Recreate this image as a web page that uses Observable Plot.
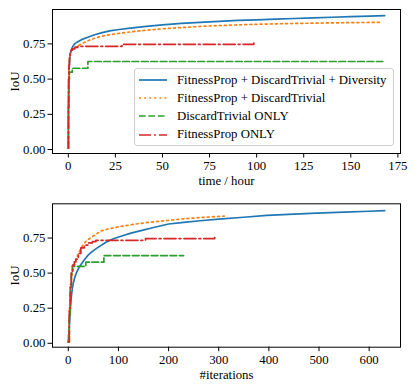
<!DOCTYPE html>
<html><head><meta charset="utf-8">
<script src="https://cdn.jsdelivr.net/npm/d3@7"></script>
<script src="https://cdn.jsdelivr.net/npm/@observablehq/plot@0.6"></script>
<style>
body{margin:0;background:#fff;}
#wrap{position:relative;width:415px;height:388px;font-family:"Liberation Serif",serif;}
#wrap svg, #wrap svg g, #wrap svg text{font-size:12.8px !important;font-family:"Liberation Serif",serif !important;}
#legend{position:absolute;left:134px;top:68px;width:258px;height:76px;border:1px solid #cfcfcf;border-radius:3px;background:rgba(255,255,255,0.85);font-size:12.8px;}
.row{position:absolute;left:4px;height:18px;display:flex;align-items:center;}
.row svg{margin-right:10px;}
</style></head>
<body><div id="wrap"><div id="top"></div><div id="bot"></div><div id="legend"></div></div>
<script>
// Series names and colours
const seriesNames = ["FitnessProp + DiscardTrivial + Diversity","FitnessProp + DiscardTrivial","DiscardTrivial ONLY","FitnessProp ONLY"];
const seriesColors = ["#1f77b4","#ff7f0e","#2ca02c","#d62728"];
const seriesDash = [null,"1.9,3.2","6.7,2.7","12,3,1.9,3"];
const seriesCurve = ["linear","linear","step-after","step-after"];

// Top panel: IoU vs time / hour
const blueT = [0,0.05,0.15,0.3,0.5,0.8,1.2,1.8,2.5,3.5,5,7,10,14,18,22,27,33,40,50,60,70,80,90,100,110,120,130,140,150,160,168];
const blueTV = [0.01,0.2,0.4,0.52,0.6,0.65,0.69,0.715,0.735,0.752,0.765,0.78,0.795,0.815,0.83,0.842,0.852,0.862,0.872,0.885,0.895,0.902,0.91,0.917,0.921,0.926,0.93,0.935,0.939,0.943,0.947,0.951];
const orangeT = [0,0.05,0.15,0.3,0.5,0.8,1.2,1.8,2.5,3.5,5,7,10,14,18,22,27,33,40,50,60,70,80,90,100,110,120,130,140,150,160,166.5];
const orangeTV = [0.01,0.25,0.45,0.55,0.62,0.66,0.69,0.705,0.715,0.725,0.735,0.75,0.77,0.79,0.805,0.815,0.825,0.835,0.845,0.857,0.866,0.874,0.88,0.885,0.889,0.892,0.895,0.897,0.899,0.901,0.902,0.903];
const greenT = [0,0.1,0.3,0.6,2.1,10.4,167];
const greenTV = [0.01,0.3,0.5,0.549,0.577,0.625,0.625];
const redT = [0,0.05,0.15,0.3,0.6,1,1.5,2.2,3.5,5,28.5,98.5,99.2];
const redTV = [0.01,0.3,0.5,0.6,0.65,0.69,0.705,0.715,0.725,0.733,0.747,0.757,0.757];

// Bottom panel: IoU vs #iterations
const blueI = [0,2,4,6,8,10,13,16,20,25,32,40,50,60,75,90,105,125,145,170,200,230,263,300,350,396,450,495,550,600,631];
const blueIV = [0.01,0.12,0.25,0.33,0.39,0.43,0.47,0.5,0.53,0.56,0.595,0.63,0.66,0.685,0.72,0.745,0.763,0.785,0.803,0.825,0.85,0.862,0.873,0.885,0.898,0.912,0.92,0.927,0.935,0.941,0.946];
const orangeI = [0,2,4,6,8,12,16,20,25,32,40,50,65,80,100,131,160,197,230,263,290,311];
const orangeIV = [0.01,0.2,0.35,0.45,0.5,0.557,0.6,0.64,0.675,0.715,0.74,0.765,0.8,0.815,0.83,0.848,0.862,0.875,0.887,0.896,0.902,0.906];
const greenI = [0,2,4,6,8,35,71,230];
const greenIV = [0.01,0.2,0.4,0.5,0.548,0.578,0.625,0.625];
const redI = [0,2,4,6,8.5,12,15,20,25,32,40,48,55,154,292,295];
const redIV = [0.01,0.25,0.42,0.5,0.557,0.58,0.6,0.64,0.68,0.7,0.715,0.725,0.734,0.746,0.757,0.757];

const yTicks = [0,0.25,0.5,0.75];
const timeTicks = [0,25,50,75,100,125,150,175];
const iterTicks = [0,100,200,300,400,500,600];

function pts(xs, ys){ return xs.map((x,i)=>({x, y: ys[i]})); }

function panel(series, xDomain, xTicks, xLabel, opts){
  const marks = series.map((s,i)=>Plot.line(s, {x:"x", y:"y", stroke: seriesColors[i], strokeWidth:1.7,
      strokeDasharray: seriesDash[i] || undefined, curve: seriesCurve[i]}));
  return Plot.plot({
    width:415, height:opts.height,
    marginLeft:52, marginRight:15, marginTop:opts.mt, marginBottom:opts.mb,
    style:{fontFamily:"'Liberation Serif', serif", fontSize:"12.8px", color:"#000", background:"#fff"},
    x:{domain:xDomain}, y:{domain:[-0.028,0.994]},
    marks:[
      ...marks,
      Plot.frame({stroke:"#000", strokeWidth:1}),
      Plot.axisX({ticks:xTicks, tickSize:4.5, tickPadding:3, label:xLabel, labelAnchor:"center", labelArrow:"none", labelOffset:opts.xlo, tickFormat:d=>String(d)}),
      Plot.axisY({ticks:yTicks, tickSize:4.5, tickPadding:2.5, label:"IoU", labelAnchor:"center", labelArrow:"none", labelOffset:43, tickFormat:d3.format(".2f")})
    ]
  });
}

document.getElementById("top").append(panel(
  [pts(blueT,blueTV),pts(orangeT,orangeTV),pts(greenT,greenTV),pts(redT,redTV)],
  [-8.4,176.4], timeTicks, "time / hour", {height:190, mt:9, mb:37, xlo:31}));
document.getElementById("bot").append(panel(
  [pts(blueI,blueIV),pts(orangeI,orangeIV),pts(greenI,greenIV),pts(redI,redIV)],
  [-31.5,662.5], iterTicks, "#iterations", {height:198, mt:13.3, mb:41.3, xlo:32}));

// legend
const leg = document.getElementById("legend");
seriesNames.forEach((n,i)=>{
  const r = document.createElement("div");
  r.className="row"; r.style.top = (2 + i*18.2) + "px";
  r.innerHTML = `<svg width="28" height="6"><line x1="0" x2="28" y1="3" y2="3" stroke="${seriesColors[i]}" stroke-width="1.7" ${seriesDash[i]?`stroke-dasharray="${seriesDash[i]}"`:""}/></svg><span>${n}</span>`;
  leg.append(r);
});
</script></body></html>
